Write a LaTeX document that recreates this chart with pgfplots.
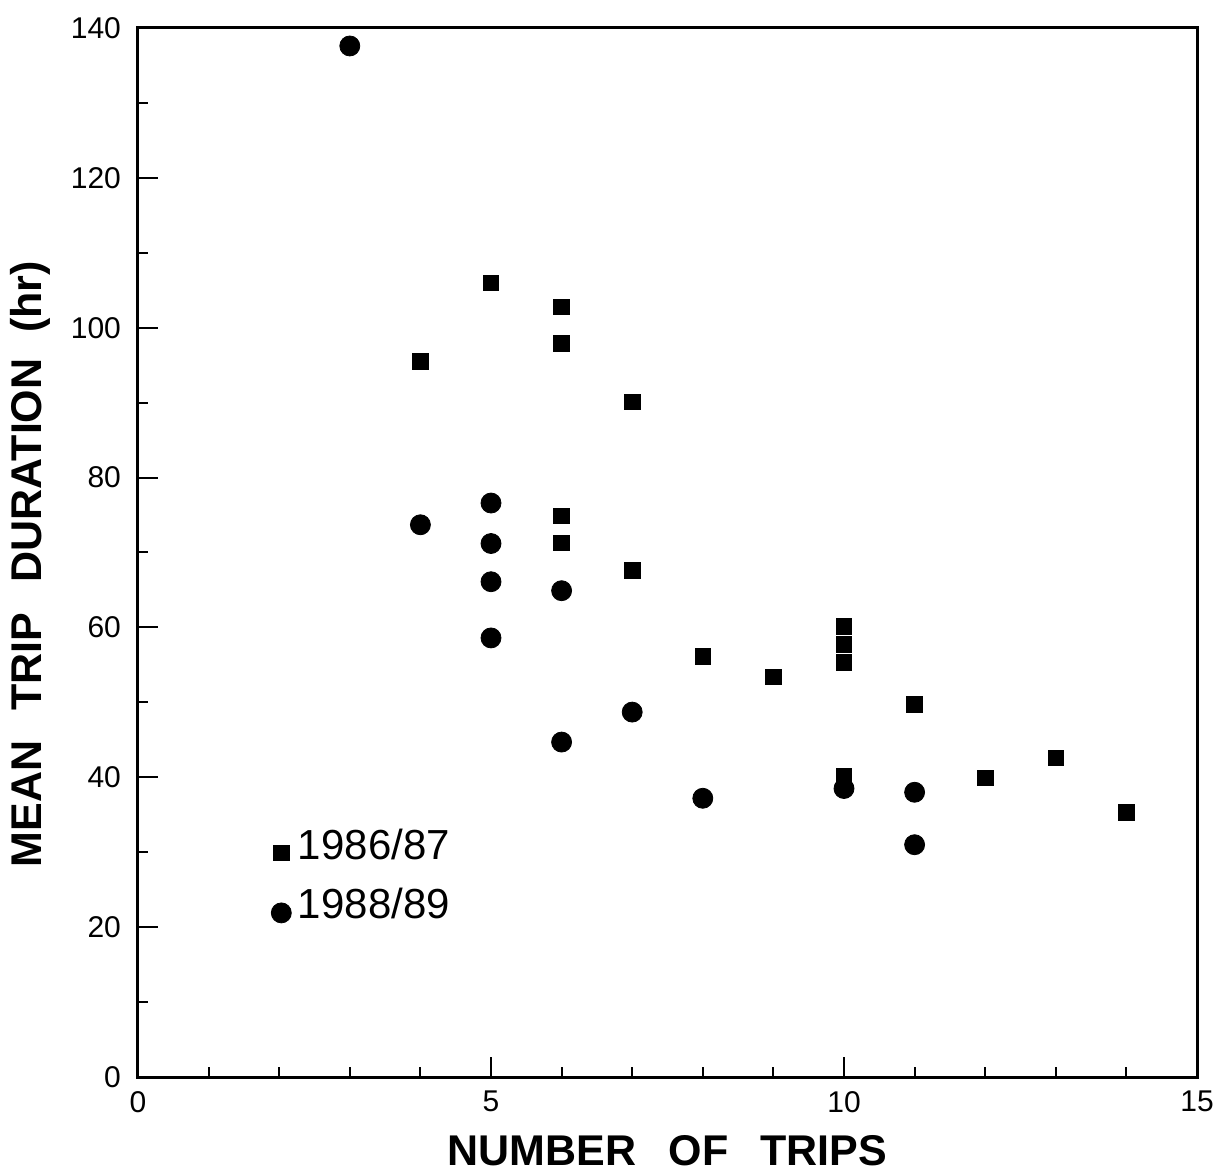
\documentclass[border=0pt]{standalone}
\usepackage{fontspec}
\setmainfont{Liberation Sans}
\usepackage{pgfplots}
\pgfplotsset{compat=1.18}

\begin{document}
\begin{tikzpicture}
\begin{axis}[
  scale only axis,
  width=529.5pt, height=524.5pt,
  xmin=0, xmax=15, ymin=0, ymax=140,
  xtick={0,5,10,15}, ytick={0,20,...,140},
  minor xtick={1,2,3,4,6,7,8,9,11,12,13,14},
  minor ytick={10,30,50,70,90,110,130},
  tick align=inside,
  xtick pos=bottom, ytick pos=left,
  major tick length=10pt, minor tick length=5pt,
  every tick/.style={black, line width=1pt},
  axis line style={line width=1.5pt},
  tick label style={font=\fontsize{15}{15}\selectfont},
  /pgf/number format/assume math mode=true,
  xticklabel style={anchor=north, yshift=-3.5pt},
  yticklabel style={anchor=east, xshift=-5pt},
  xlabel={\bfseries NUMBER\hspace{0.75em}OF\hspace{0.75em}TRIPS},
  ylabel={\bfseries MEAN\hspace{0.7em}TRIP\hspace{0.7em}DURATION\hspace{0.6em}(hr)},
  every axis x label/.style={at={(axis description cs:0.5,-0.0705)}, anchor=center,
    font=\fontsize{21.5}{21.5}\selectfont},
  every axis y label/.style={at={(axis description cs:-0.102,0.489)}, anchor=center, rotate=90,
    font=\fontsize{21.5}{21.5}\selectfont},
  clip=false,
]
% 1986/87
\addplot[only marks, mark=square*, mark size=3.9pt, black] coordinates {
  (4,95.5) (5,106) (6,102.8) (6,97.9) (7,90.1) (6,74.9) (6,71.3) (7,67.6)
  (8,56.1) (9,53.4) (10,60.1) (10,57.7) (10,55.3) (11,49.7) (10,40.2)
  (12,39.9) (13,42.6) (14,35.3)
};
% 1988/89
\addplot[only marks, mark=*, mark size=5pt, black] coordinates {
  (3,137.6) (4,73.7) (5,76.6) (5,71.2) (5,66.1) (5,58.6) (6,64.9) (6,44.7)
  (7,48.7) (8,37.2) (10,38.5) (11,38.0) (11,31.0)
};
% legend
\addplot[only marks, mark=square*, mark size=3.9pt, black, forget plot] coordinates {(2.03,29.9)};
\addplot[only marks, mark=*, mark size=5pt, black, forget plot] coordinates {(2.03,21.9)};
\node[anchor=west, font=\fontsize{21}{21}\selectfont, inner sep=0pt] at (axis cs:2.26,31.0) {1986/87};
\node[anchor=west, font=\fontsize{21}{21}\selectfont, inner sep=0pt] at (axis cs:2.26,23.1) {1988/89};
\coordinate (SW) at (rel axis cs:0,0);
\coordinate (NE) at (rel axis cs:1,1);
\end{axis}
\pgfresetboundingbox
\path[use as bounding box] ([shift={(-69pt,-48pt)}]SW) rectangle ([shift={(9pt,14pt)}]NE);
\end{tikzpicture}
\end{document}
